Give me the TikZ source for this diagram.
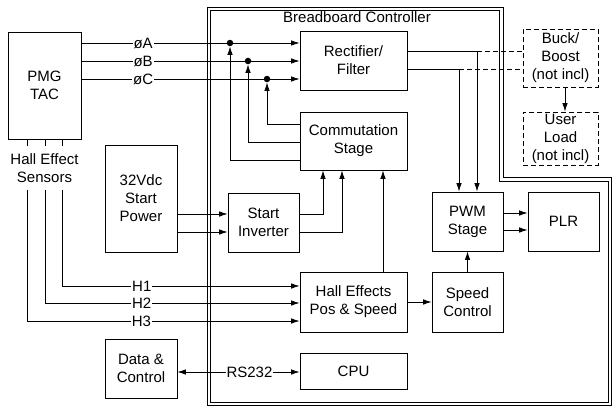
\documentclass[tikz,border=0pt]{standalone}
\usepackage{fontspec}
\setmainfont{Liberation Sans}
\usetikzlibrary{arrows.meta}
\begin{document}
\begin{tikzpicture}[x=1pt,y=-1pt,
  font=\fontsize{15}{18}\selectfont,
  box/.style={draw, line width=0.8pt, align=center, inner sep=0pt},
  dbox/.style={box, dash pattern=on 5pt off 3pt},
  arr/.style={-{Latex[length=8.5pt,width=5.5pt]}, line width=0.8pt},
  biarr/.style={{Latex[length=8.5pt,width=5.5pt]}-{Latex[length=8.5pt,width=5.5pt]}, line width=0.8pt},
  ln/.style={line width=0.8pt},
  dln/.style={line width=0.8pt, dash pattern=on 5pt off 3pt},
  bord/.style={line width=0.9pt},
  lbl/.style={fill=white, inner sep=1pt},
  dot/.style={circle, fill, inner sep=0pt, minimum size=6.5pt}]
\useasboundingbox (0,0) rectangle (612,407);

% controller border (double line)
\draw[bord] (207,7) -- (503,7) -- (503,177) -- (611.5,177)
  -- (611.5,405.5) -- (207,405.5) -- cycle;
\draw[bord] (210.5,10.5) -- (499.5,10.5) -- (499.5,181.5) -- (608.5,181.5)
  -- (608.5,402) -- (210.5,402) -- cycle;
\node (title) at (357,17) {Breadboard Controller};

% boxes
\node[box, minimum width=73pt, minimum height=107pt] (pmg) at (44.5,85.5) {PMG\\TAC};
\node[box, minimum width=72pt, minimum height=107pt] (sp) at (141,198.5) {32Vdc\\Start\\Power};
\node[box, minimum width=107pt, minimum height=59pt] (rect) at (353.5,60.5) {Rectifier/\\Filter};
\node[box, minimum width=107pt, minimum height=58pt] (comm) at (353.5,141) {Commutation\\Stage};
\node[box, minimum width=71pt, minimum height=59pt] (inv) at (263.5,222.5) {Start\\Inverter};
\node[box, minimum width=107pt, minimum height=60pt] (hall) at (353.5,302) {Hall Effects\\Pos \& Speed};
\node[box, minimum width=107pt, minimum height=36pt] (cpu) at (353.5,371) {CPU};
\node[box, minimum width=72pt, minimum height=59pt] (dc) at (141,368.5) {Data \&\\Control};
\node[box, minimum width=71pt, minimum height=59pt] (pwm) at (467.5,221.5) {PWM\\Stage};
\node[box, minimum width=71pt, minimum height=59pt] (plr) at (563.5,221.5) {PLR};
\node[box, minimum width=71pt, minimum height=60pt] (spd) at (467.5,302) {Speed\\Control};
\node[dbox, minimum width=75pt, minimum height=58pt] (buck) at (560.5,58) {Buck/\\Boost\\(not incl)};
\node[dbox, minimum width=75pt, minimum height=53pt] (user) at (560.5,138.5) {User\\Load\\(not incl)};
\node[align=center] (hes) at (44.5,168) {Hall Effect\\Sensors};

% phase lines
\draw[arr] (pmg.east |- 0,43) -- node[lbl,pos=0.283]{øA} (rect.west |- 0,43);
\draw[arr] (pmg.east |- 0,61) -- node[lbl,pos=0.283]{øB} (rect.west |- 0,61);
\draw[arr] (pmg.east |- 0,79) -- node[lbl,pos=0.283]{øC} (rect.west |- 0,79);
\node[dot] (dA) at (230,43) {};
\node[dot] (dB) at (248,61) {};
\node[dot] (dC) at (267,79) {};
\draw[arr] (comm.west |- 0,160) -| (dA);
\draw[arr] (comm.west |- 0,142) -| (dB);
\draw[arr] (comm.west |- 0,124) -| (dC);

% rectifier outputs
\draw[arr] (rect.east |- 0,51) -| (pwm.north -| 477,0);
\draw[arr] (rect.east |- 0,69) -| (pwm.north -| 459,0);
\draw[dln] (477,51) -- (buck.west |- 0,51);
\draw[dln] (459,69) -- (buck.west |- 0,69);
\draw[arr] ([xshift=4.5pt]buck.south) -- ([xshift=4.5pt]user.north);

% start power / inverter
\draw[arr] (sp.east |- 0,214) -- (inv.west |- 0,214);
\draw[arr] (sp.east |- 0,232) -- (inv.west |- 0,232);
\draw[arr] (inv.east |- 0,214) -| (comm.south -| 323,0);
\draw[arr] (inv.east |- 0,232) -| (comm.south -| 342,0);
\draw[arr] (hall.north -| 383,0) -- (comm.south -| 383,0);

% hall sensors
\draw[ln] (pmg.south -| 27,0) -- (27,146);
\draw[ln] (pmg.south -| 45,0) -- (45,146);
\draw[ln] (pmg.south -| 62,0) -- (62,146);
\draw[arr] (62,190) -- (62,286) -- node[lbl,pos=0.336]{H1} (hall.west |- 0,286);
\draw[arr] (45,190) -- (45,303) -- node[lbl,pos=0.38]{H2} (hall.west |- 0,303);
\draw[arr] (27,190) -- (27,321) -- node[lbl,pos=0.42]{H3} (hall.west |- 0,321);

% control chain
\draw[arr] (hall.east) -- (spd.west);
\draw[arr] (spd.north) -- (pwm.south);
\draw[arr] (pwm.east |- 0,213) -- (plr.west |- 0,213);
\draw[arr] (pwm.east |- 0,230) -- (plr.west |- 0,230);

% RS232
\draw[biarr] (dc.east |- 0,372) -- node[lbl,pos=0.59]{RS232} (cpu.west |- 0,372);
\end{tikzpicture}
\end{document}
